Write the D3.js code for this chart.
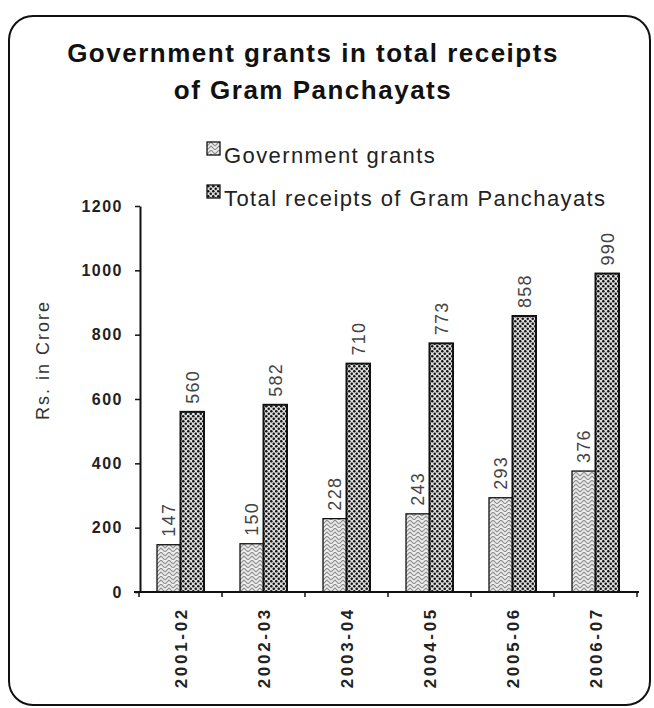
<!DOCTYPE html>
<html>
<head>
<meta charset="utf-8">
<script src="https://cdn.jsdelivr.net/npm/d3@7"></script>
<style>
  html, body { margin: 0; padding: 0; background: #fff; }
  svg { display: block; }
</style>
</head>
<body>
<svg id="chart" width="654" height="708"></svg>
<script>
// ---- data ----
const years = ["2001-02", "2002-03", "2003-04", "2004-05", "2005-06", "2006-07"];
const governmentGrants = [147, 150, 228, 243, 293, 376];
const totalReceipts = [560, 582, 710, 773, 858, 990];
const seriesNames = ["Government grants", "Total receipts of Gram Panchayats"];
const yTicks = [0, 200, 400, 600, 800, 1000, 1200];
const titleLines = ["Government grants in total receipts", "of Gram Panchayats"];
const yAxisLabel = "Rs. in Crore";

const rows = years.map((y, i) => ({ year: y, values: [governmentGrants[i], totalReceipts[i]] }));

const svg = d3.select("#chart");
const FONT = "'Liberation Sans', Arial, Helvetica, sans-serif";

// ---- patterns ----
const defs = svg.append("defs");
const pGov = defs.append("pattern").attr("id", "patGov")
  .attr("patternUnits", "userSpaceOnUse").attr("width", 8).attr("height", 8);
pGov.append("rect").attr("width", 8).attr("height", 8).attr("fill", "#eeeeee");
pGov.append("path").attr("d", "M0,4 L4,0 L8,4 M0,8 L4,4 L8,8")
  .attr("fill", "none").attr("stroke", "#8f8f8f").attr("stroke-width", 1.1);

const pTot = defs.append("pattern").attr("id", "patTot")
  .attr("patternUnits", "userSpaceOnUse").attr("width", 5).attr("height", 5);
pTot.append("rect").attr("width", 5).attr("height", 5).attr("fill", "#dcdcdc");
pTot.append("circle").attr("cx", 1.25).attr("cy", 1.25).attr("r", 1.25).attr("fill", "#111");
pTot.append("circle").attr("cx", 3.75).attr("cy", 3.75).attr("r", 1.25).attr("fill", "#111");

const fills = ["url(#patGov)", "url(#patTot)"];

// ---- frame ----
svg.append("rect").attr("x", 9).attr("y", 16).attr("width", 641).attr("height", 689)
  .attr("rx", 24).attr("ry", 24)
  .attr("fill", "#fff").attr("stroke", "#111").attr("stroke-width", 2);

// ---- title ----
const title = svg.append("text").attr("text-anchor", "middle")
  .attr("font-family", FONT).attr("font-weight", "bold").attr("font-size", 26)
  .attr("letter-spacing", 1.5).attr("fill", "#111");
title.selectAll("tspan").data(titleLines).join("tspan")
  .attr("x", 313).attr("y", (d, i) => 62 + i * 37).text(d => d);

// ---- scales ----
const y = d3.scaleLinear().domain([0, 1200]).range([592, 206]);
const x0 = d3.scaleBand().domain(years).range([139, 637]).paddingInner(0.434).paddingOuter(0.217);
const x1 = d3.scaleBand().domain([0, 1]).range([0, x0.bandwidth()]);

// ---- bars ----
const groups = svg.append("g").selectAll("g").data(rows).join("g")
  .attr("transform", d => `translate(${x0(d.year)},0)`);
groups.selectAll("rect").data(d => d.values.map((v, k) => ({ v, k }))).join("rect")
  .attr("x", d => x1(d.k)).attr("width", x1.bandwidth())
  .attr("y", d => y(d.v)).attr("height", d => y(0) - y(d.v))
  .attr("fill", d => fills[d.k]).attr("stroke", "#111")
  .attr("stroke-width", d => d.k === 1 ? 2 : 1.3);

groups.selectAll("text.val").data(d => d.values.map((v, k) => ({ v, k }))).join("text")
  .attr("class", "val")
  .attr("transform", d => `translate(${x1(d.k) + x1.bandwidth() / 2},${y(d.v) - 8}) rotate(-90)`)
  .attr("dy", "0.36em").attr("text-anchor", "start")
  .attr("font-family", FONT).attr("font-size", 18).attr("letter-spacing", 1.3)
  .attr("fill", "#444").text(d => d.v);

// ---- y axis ----
const yAxis = svg.append("g").attr("transform", "translate(140,0)")
  .call(d3.axisLeft(y).tickValues(yTicks).tickFormat(d3.format("d"))
    .tickSize(5).tickPadding(12).tickSizeOuter(0));
yAxis.select(".domain").attr("stroke", "#111").attr("stroke-width", 2);
yAxis.selectAll(".tick line").attr("stroke", "#111").attr("stroke-width", 1.5);
yAxis.selectAll(".tick text").attr("font-family", FONT).attr("font-weight", "bold")
  .attr("font-size", 16).attr("letter-spacing", 1.5).attr("fill", "#222");

// ---- x axis ----
const xAxisG = svg.append("g").attr("transform", `translate(0,${y(0)})`);
xAxisG.append("line").attr("x1", 134).attr("x2", x0.range()[1] + 2)
  .attr("stroke", "#111").attr("stroke-width", 2);
const bounds = d3.range(years.length + 1).map(i => x0.range()[0] + i * x0.step());
xAxisG.selectAll("line.bt").data(bounds).join("line").attr("class", "bt")
  .attr("x1", d => d).attr("x2", d => d).attr("y1", 0).attr("y2", 5)
  .attr("stroke", "#111").attr("stroke-width", 1.5);
xAxisG.selectAll("text").data(years).join("text")
  .attr("transform", d => `translate(${x0(d) + x0.bandwidth() / 2},15) rotate(-90)`)
  .attr("dy", "0.36em").attr("text-anchor", "end")
  .attr("font-family", FONT).attr("font-weight", "bold").attr("font-size", 17)
  .attr("letter-spacing", 2.7).attr("fill", "#222").text(d => d);

// ---- y axis label ----
svg.append("text").attr("transform", "translate(43,360) rotate(-90)")
  .attr("dy", "0.36em").attr("text-anchor", "middle")
  .attr("font-family", FONT).attr("font-size", 18).attr("letter-spacing", 2)
  .attr("fill", "#333").text(yAxisLabel);

// ---- legend ----
const legend = svg.append("g").selectAll("g").data(seriesNames).join("g")
  .attr("transform", (d, i) => `translate(207,${142 + i * 43})`);
legend.append("rect").attr("width", 13).attr("height", 13)
  .attr("fill", (d, i) => fills[i]).attr("stroke", "#111").attr("stroke-width", 1.3);
legend.append("text").attr("x", 17).attr("y", 21)
  .attr("font-family", FONT).attr("font-size", 22).attr("letter-spacing", 1.4)
  .attr("fill", "#222").text(d => d);
</script>
</body>
</html>
